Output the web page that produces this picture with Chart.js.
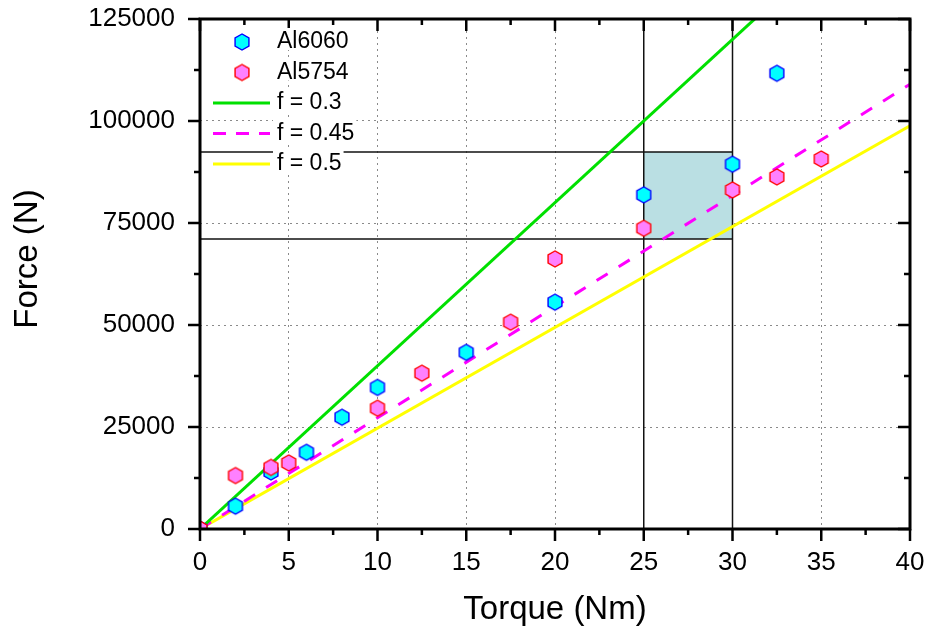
<!DOCTYPE html>
<html>
<head>
<meta charset="utf-8">
<title>Force vs Torque</title>
<script src="https://cdn.jsdelivr.net/npm/chart.js@4.4.1/dist/chart.umd.min.js"></script>
<style>
    html, body { margin: 0; padding: 0; background: #fff; }
    canvas { display: block; }
</style>
</head>
<body>
<canvas id="forceChart" width="929" height="636"></canvas>
<script>
// ===== Data =====
const torque6060 = [0, 2, 4, 6, 8, 10, 15, 20, 25, 30, 32.5];
const force6060  = [0, 5600, 14000, 18800, 27400, 34700, 43300, 55600, 81900, 89400, 111700];

const torque5754 = [0, 2, 4, 5, 10, 12.5, 17.5, 20, 25, 30, 32.5, 35];
const force5754  = [0, 13100, 15100, 16200, 29600, 38200, 50700, 66200, 73700, 83100, 86300, 90700];

// friction lines start at the origin and run off the right edge
const frictionLabels = ['f = 0.3', 'f = 0.45', 'f = 0.5'];
const frictionTorque = [0, 40];
const frictionForce  = [[0, 160000], [0, 109000], [0, 98800]];

// highlighted working window
const windowTorque = [25, 30];
const windowForce  = [71100, 92400];

const xTicks = [0, 5, 10, 15, 20, 25, 30, 35, 40];
const yTicks = [0, 25000, 50000, 75000, 100000, 125000];

const xTitle = 'Torque (Nm)';
const yTitle = 'Force (N)';

const FONT = '"Liberation Sans", Arial, Helvetica, sans-serif';

// ===== Hexagon marker =====
function makeHexagon(fill, stroke) {
    const size = 20;
    const c = document.createElement('canvas');
    c.width = size;
    c.height = size;
    const g = c.getContext('2d');
    const r = 8;
    g.beginPath();
    for (let i = 0; i < 6; i++) {
        const a = Math.PI / 2 + i * Math.PI / 3;
        const px = size / 2 + r * Math.cos(a);
        const py = size / 2 - r * Math.sin(a);
        if (i === 0) g.moveTo(px, py); else g.lineTo(px, py);
    }
    g.closePath();
    g.fillStyle = fill;
    g.fill();
    g.lineWidth = 1.4;
    g.strokeStyle = stroke;
    g.stroke();
    return c;
}

const hexCyan = makeHexagon('#00ffff', '#0000ff');
const hexPink = makeHexagon('#ff80ff', '#ff0000');

function zip(xs, ys) {
    return xs.map((x, i) => ({ x: x, y: ys[i] }));
}

function guideLine(xs, ys) {
    return {
        label: '',
        data: zip(xs, ys),
        showLine: true,
        borderColor: '#111',
        borderWidth: 1.5,
        pointRadius: 0,
        order: 3
    };
}

const lineColors = ['#00e000', '#ff00ff', '#ffff00'];
const lineDashes = [[], [13, 13], []];

const datasets = [
    {
        label: 'Al6060',
        data: zip(torque6060, force6060),
        pointStyle: hexCyan,
        pointRadius: 8,
        order: 1
    },
    {
        label: 'Al5754',
        data: zip(torque5754, force5754),
        pointStyle: hexPink,
        pointRadius: 8,
        order: 0
    }
];

frictionLabels.forEach((label, i) => {
    datasets.push({
        label: label,
        data: zip(frictionTorque, frictionForce[i]),
        showLine: true,
        borderColor: lineColors[i],
        borderWidth: 3,
        borderDash: lineDashes[i],
        pointRadius: 0,
        order: 2
    });
});

datasets.push(guideLine([0, windowTorque[1]], [windowForce[1], windowForce[1]]));
datasets.push(guideLine([0, windowTorque[1]], [windowForce[0], windowForce[0]]));
datasets.push(guideLine([windowTorque[0], windowTorque[0]], [0, 125000]));
datasets.push(guideLine([windowTorque[1], windowTorque[1]], [0, 125000]));

// ===== Plugins =====
// shaded window, under the points
const windowShade = {
    id: 'windowShade',
    beforeDatasetsDraw(chart) {
        const { ctx, scales: { x, y } } = chart;
        const x0 = x.getPixelForValue(windowTorque[0]);
        const x1 = x.getPixelForValue(windowTorque[1]);
        const y0 = y.getPixelForValue(windowForce[1]);
        const y1 = y.getPixelForValue(windowForce[0]);
        ctx.save();
        ctx.fillStyle = '#badfe3';
        ctx.fillRect(x0, y0, x1 - x0, y1 - y0);
        ctx.restore();
    }
};

// box frame with major/minor ticks on all four sides
const frameTicks = {
    id: 'frameTicks',
    afterDatasetsDraw(chart) {
        const { ctx, chartArea: a, scales: { x, y } } = chart;
        const major = 12, minor = 6;

        const withMinor = (vals) => {
            const out = [];
            vals.forEach((v, i) => {
                out.push([v, major]);
                if (i < vals.length - 1) out.push([(v + vals[i + 1]) / 2, minor]);
            });
            return out;
        };

        ctx.save();
        ctx.strokeStyle = '#000';
        ctx.lineWidth = 2.5;
        ctx.beginPath();
        withMinor(x.ticks.map(t => t.value)).forEach(([v, len]) => {
            const px = x.getPixelForValue(v);
            ctx.moveTo(px, a.bottom);
            ctx.lineTo(px, a.bottom + len);
            ctx.moveTo(px, a.top);
            ctx.lineTo(px, a.top + len);
        });
        withMinor(y.ticks.map(t => t.value)).forEach(([v, len]) => {
            const py = y.getPixelForValue(v);
            ctx.moveTo(a.left, py);
            ctx.lineTo(a.left - len, py);
            ctx.moveTo(a.right, py);
            ctx.lineTo(a.right - len, py);
        });
        ctx.stroke();

        ctx.lineWidth = 3;
        ctx.strokeRect(a.left, a.top, a.right - a.left, a.bottom - a.top);
        ctx.restore();
    }
};

// legend in the upper left corner, text on white boxes
const inlineLegend = {
    id: 'inlineLegend',
    afterDraw(chart) {
        const ctx = chart.ctx;
        const items = chart.data.datasets.filter(d => d.label);
        ctx.save();
        ctx.font = '23px ' + FONT;
        ctx.textBaseline = 'middle';
        items.forEach((d, i) => {
            const cy = 42 + i * 30.5;
            const tx = 277;
            const w = ctx.measureText(d.label).width;
            ctx.fillStyle = '#fff';
            ctx.fillRect(tx - 4, cy - 14, w + 6, 22);
            ctx.fillStyle = '#000';
            ctx.fillText(d.label, tx, cy);

            if (d.showLine) {
                ctx.save();
                ctx.strokeStyle = d.borderColor;
                ctx.lineWidth = d.borderWidth;
                ctx.setLineDash(d.borderDash && d.borderDash.length ? [13, 10] : []);
                ctx.beginPath();
                ctx.moveTo(213, cy);
                ctx.lineTo(270, cy);
                ctx.stroke();
                ctx.restore();
            } else {
                const img = d.pointStyle;
                ctx.drawImage(img, 242 - img.width / 2, cy - img.height / 2);
            }
        });
        ctx.restore();
    }
};

const axisTitles = {
    id: 'axisTitles',
    afterDraw(chart) {
        const { ctx, chartArea: a } = chart;
        ctx.save();
        ctx.fillStyle = '#000';
        ctx.font = '33px ' + FONT;
        ctx.textAlign = 'center';
        ctx.textBaseline = 'alphabetic';
        ctx.fillText(xTitle, (a.left + a.right) / 2, 619);
        ctx.translate(37, 259);
        ctx.rotate(-Math.PI / 2);
        ctx.fillText(yTitle, 0, 0);
        ctx.restore();
    }
};

// ===== Chart =====
Chart.defaults.font.family = FONT;
Chart.defaults.color = '#000';

const ctx = document.getElementById('forceChart').getContext('2d');
const forceChart = new Chart(ctx, {
    type: 'scatter',
    data: { datasets: datasets },
    options: {
        responsive: false,
        animation: false,
        events: [],
        layout: { padding: { top: 19, right: 19, left: 0, bottom: 0 } },
        plugins: {
            legend: { display: false },
            tooltip: { enabled: false }
        },
        scales: {
            x: {
                type: 'linear',
                min: 0,
                max: 40,
                afterBuildTicks: s => { s.ticks = xTicks.map(v => ({ value: v })); },
                afterFit: s => {
                    s.height = 107;
                    s.paddingLeft = 0;
                    s.paddingRight = 0;
                },
                grid: { color: '#8a8a8a', lineWidth: 1, drawTicks: false },
                border: { display: false, dash: [2, 4] },
                ticks: {
                    padding: 18,
                    maxRotation: 0,
                    font: { size: 26 },
                    callback: v => String(v)
                }
            },
            y: {
                type: 'linear',
                min: 0,
                max: 125000,
                afterBuildTicks: s => { s.ticks = yTicks.map(v => ({ value: v })); },
                afterFit: s => {
                    s.width = 200;
                    s.paddingTop = 0;
                    s.paddingBottom = 0;
                },
                grid: { color: '#8a8a8a', lineWidth: 1, drawTicks: false },
                border: { display: false, dash: [2, 4] },
                ticks: {
                    padding: 25,
                    font: { size: 26 },
                    callback: v => String(v)
                }
            }
        }
    },
    plugins: [windowShade, frameTicks, inlineLegend, axisTitles]
});
</script>
</body>
</html>
